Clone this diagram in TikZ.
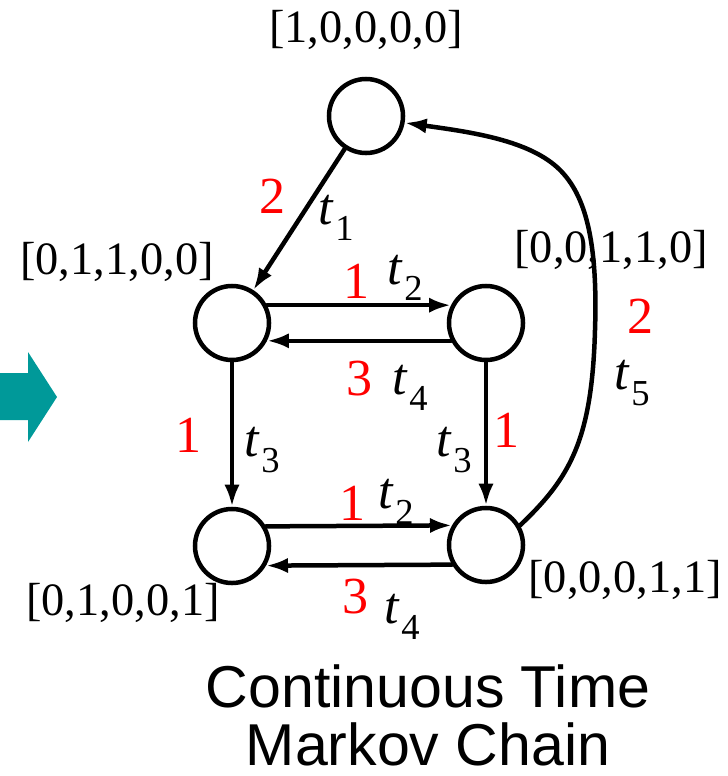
\documentclass[tikz,border=0pt]{standalone}
\usepackage{fontspec}
\setmainfont{Liberation Serif}
\newfontfamily\tieudefont{Liberation Sans}
\usetikzlibrary{arrows.meta}
\definecolor{xanhngoc}{RGB}{0,153,153}
\tikzset{
	trangthai/.style={circle, draw, line width=3.2pt, minimum size=1.85cm, inner sep=0pt},
	mui/.style={line width=3.2pt, -{Latex[length=0.55cm, width=0.38cm]}},
	vecto/.style={font=\fontsize{33}{36}\selectfont},
	tiso/.style={text=red, font=\fontsize{37}{40}\selectfont},
	nhan/.style={font=\fontsize{37}{40}\selectfont}
}
% nhãn t có chỉ số dưới
\newcommand{\tchi}[1]{\textit{t}\kern0.03em\raisebox{-0.3em}{\fontsize{26}{26}\selectfont #1}}

\begin{document}
\begin{tikzpicture}[x=0.025cm, y=-0.025cm, line join=round, line cap=round]
	\useasboundingbox (0,0) rectangle (728,776);
	
	% Mũi tên xanh bên trái
	\fill[xanhngoc] (0,373) -- (28,373) -- (28,352) -- (57,397) -- (28,442) -- (28,420) -- (0,420) -- cycle;
	
	% --- Các trạng thái ---
	\node[trangthai] (s10000) at (366,116) {};
	\node[trangthai] (s01100) at (232,323) {};
	\node[trangthai] (s00110) at (486,323) {};
	\node[trangthai] (s01001) at (232,546) {};
	\node[trangthai] (s00011) at (486,545) {};
	
	% --- Các cung chuyển ---
	\draw[mui] (s10000) -- (s01100);
	\draw[mui] (s01100.27) -- (s00110.153);
	\draw[mui] (s00110.207) -- (s01100.-27);
	\draw[mui] (s01100) -- (s01001);
	\draw[mui] (s00110) -- (s00011);
	\draw[mui] (s01001.30) -- (s00011.150);
	\draw[mui] (s00011.210) -- (s01001.-30);
	\draw[mui] (s00011.30) .. controls (570,478) and (592,440) .. (595,330)
		.. controls (598,240) and (585,195) .. (560,170)
		.. controls (530,140) and (470,132) .. (s10000.-10);
	
	% --- Nhãn trạng thái ---
	\node[vecto] (v10000) at (366,30) {[1,0,0,0,0]};
	\node[vecto] (v01100) at (117,262) {[0,1,1,0,0]};
	\node[vecto] (v00110) at (611,250) {[0,0,1,1,0]};
	\node[vecto] (v01001) at (123,603) {[0,1,0,0,1]};
	\node[vecto] (v00011) at (625,580) {[0,0,0,1,1]};
	
	% --- Tỉ số chuyển (màu đỏ) ---
	\node[tiso] (r1) at (273,196) {2};
	\node[tiso] (r2) at (357,281) {1};
	\node[tiso] (r3) at (360,379) {3};
	\node[tiso] (r4) at (189,435) {1};
	\node[tiso] (r5) at (507,430) {1};
	\node[tiso] (r6) at (353,503) {1};
	\node[tiso] (r7) at (356,597) {3};
	\node[tiso] (r8) at (640,316) {2};
	
	% --- Nhãn chuyển t ---
	\node[nhan] (t1) at (336,218) {\tchi{1}};
	\node[nhan] (t2a) at (405,278) {\tchi{2}};
	\node[nhan] (t4a) at (410,388) {\tchi{4}};
	\node[nhan] (t3a) at (262,450) {\tchi{3}};
	\node[nhan] (t3b) at (454,450) {\tchi{3}};
	\node[nhan] (t2b) at (396,502) {\tchi{2}};
	\node[nhan] (t4b) at (402,617) {\tchi{4}};
	\node[nhan] (t5) at (632,383) {\tchi{5}};
	
	% --- Tiêu đề ---
	\node[font=\tieudefont\fontsize{42}{41}\selectfont, align=center, anchor=base] (tieude) at (428,765) {Continuous Time\\Markov Chain};
	
\end{tikzpicture}
\end{document}
